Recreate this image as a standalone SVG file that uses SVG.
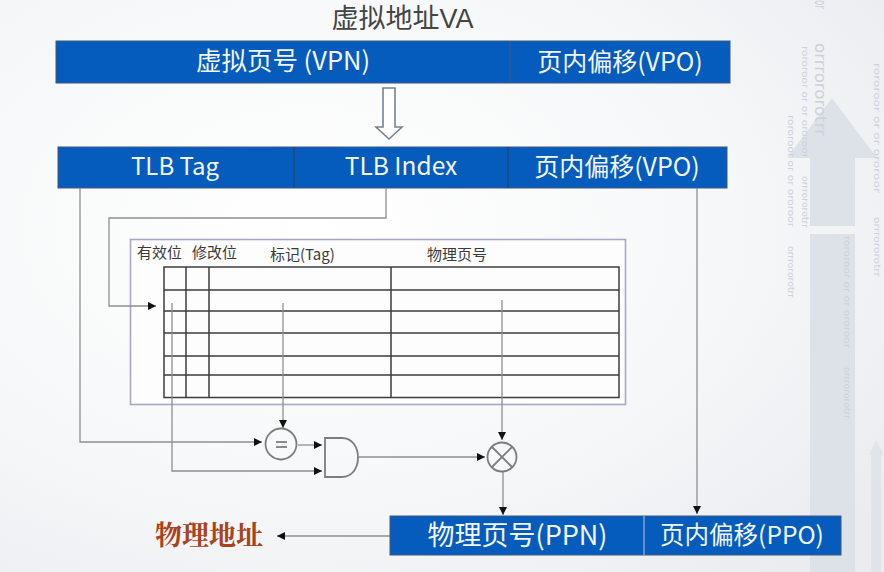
<svg xmlns="http://www.w3.org/2000/svg" width="884" height="572" viewBox="0 0 884 572">
<defs>
<radialGradient id="bg" cx="0.35" cy="0.4" r="0.8"><stop offset="0" stop-color="#ffffff"/><stop offset="0.6" stop-color="#f6f7f8"/><stop offset="1" stop-color="#eaecf0"/></radialGradient>
<marker id="ah" markerUnits="userSpaceOnUse" markerWidth="9" markerHeight="9" refX="8" refY="4" orient="auto"><path d="M0 0L8 4L0 8z" fill="#111"/></marker>
</defs>
<style>
.bar{fill:#065cbc;stroke:#41597a;stroke-width:1}
.bt{font-family:"Noto Sans CJK SC","Liberation Sans",sans-serif;fill:#f2f6fb;text-anchor:middle;font-size:25px}
.c{fill:none;stroke:#8f8f8f;stroke-width:1.3}
.a{marker-end:url(#ah)}
.g{fill:none;stroke:#7d7d7d;stroke-width:1.8}
.grid{stroke:#3d3d3d;stroke-width:1.5;fill:none}
.th{font-family:"Noto Sans CJK SC","Liberation Sans",sans-serif;font-size:15px;fill:#3a3a3a}
.wm{font-family:"DejaVu Sans",sans-serif;fill:#ccd2da;font-size:9px}
.wa{fill:#dde2e9}
</style>
<rect width="884" height="572" fill="url(#bg)"/>
<g id="watermark">
<path class="wa" d="M832 98L877 158H855V226H810V158H787z"/>
<rect class="wa" x="810" y="234" width="45" height="338"/>
<path class="wa" d="M876 440L884 455H881V572H871V455H869z" opacity="0.8"/>
<text class="wm" transform="translate(815,0) rotate(90)" style="font-size:16px" textLength="9" lengthAdjust="spacingAndGlyphs">or</text>
<text class="wm" transform="translate(815,43) rotate(90)" style="font-size:16px" textLength="93" lengthAdjust="spacingAndGlyphs">orrrororotrr</text>
<text class="wm" transform="translate(802,46) rotate(90)" textLength="112" lengthAdjust="spacingAndGlyphs">rororoor or or ororoor</text>
<text class="wm" transform="translate(802,176) rotate(90)" textLength="52" lengthAdjust="spacingAndGlyphs">orrrororotrr</text>
<text class="wm" transform="translate(788,115) rotate(90)" textLength="112" lengthAdjust="spacingAndGlyphs">rororoor or or ororoor</text>
<text class="wm" transform="translate(788,246) rotate(90)" textLength="52" lengthAdjust="spacingAndGlyphs">orrrororotrr</text>
<text class="wm" transform="translate(874,63) rotate(90)" textLength="130" lengthAdjust="spacingAndGlyphs">rororoor or or ororoor</text>
<text class="wm" transform="translate(874,217) rotate(90)" textLength="60" lengthAdjust="spacingAndGlyphs">orrrororotrr</text>
<text class="wm" transform="translate(844,236) rotate(90)" textLength="112" lengthAdjust="spacingAndGlyphs">rororoor or or ororoor</text>
<text class="wm" transform="translate(844,367) rotate(90)" textLength="52" lengthAdjust="spacingAndGlyphs">orrrororotrr</text>
</g>
<g id="title"><text x="402.500" y="28" font-family="'Liberation Sans','Noto Sans CJK SC',sans-serif" font-size="27" fill="#444" text-anchor="middle">虚拟地址VA</text></g>
<g id="va-bar">
<rect class="bar" x="56" y="41" width="674" height="42"/>
<line x1="510" y1="41" x2="510" y2="83" stroke="#41597a"/>
<text class="bt" x="283" y="70" style="font-size:25.500px">虚拟页号 (VPN)</text>
<text class="bt" x="620" y="71">页内偏移(VPO)</text>
</g>
<g id="down-arrow"><path d="M383 88H395V127H402L389 139L376 127H383z" fill="#fff" stroke="#76838f" stroke-width="1.6"/></g>
<g id="tlb-bar">
<rect class="bar" x="58" y="147" width="669" height="41"/>
<line x1="294" y1="147" x2="294" y2="188" stroke="#24405f"/>
<line x1="508" y1="147" x2="508" y2="188" stroke="#24405f"/>
<text class="bt" x="175" y="175" style="font-size:24px">TLB Tag</text>
<text class="bt" x="401" y="175" style="font-size:24.500px">TLB Index</text>
<text class="bt" x="617" y="176">页内偏移(VPO)</text>
</g>
<g id="tlb-table">
<rect x="130.500" y="239.500" width="495" height="165" fill="#fdfdfe" stroke="#a9a6c6" stroke-width="1.6"/>
<text class="th" x="137" y="258">有效位</text>
<text class="th" x="192" y="258">修改位</text>
<text class="th" x="270" y="260">标记(Tag)</text>
<text class="th" x="427" y="260">物理页号</text>
<rect class="grid" x="164" y="267" width="455" height="130.500"/>
<path class="grid" d="M186 267V397M209 267V397M391 267V397M164 290H619M164 311H619M164 333H619M164 356H619M164 375H619"/>
</g>
<g id="connectors">
<path class="c a" d="M386 188V218H109V306H156"/>
<path class="c a" d="M80 188V442H262"/>
<path class="c a" d="M172 303V471H322"/>
<path class="c a" d="M283 303V428"/>
<path class="c a" d="M298 445H322"/>
<path class="c a" d="M359 457H485"/>
<path class="c a" d="M502 300V440"/>
<path class="c a" d="M503 471V515"/>
<path class="c a" d="M697 188V514"/>
<path class="c a" d="M390 536H277"/>
</g>
<g id="equal"><circle cx="281" cy="444" r="15.500" fill="#f8f9fa" class="g"/><path d="M276 442H287M276 447H287" stroke="#8a8a8a" stroke-width="1.800"/></g>
<g id="and-gate"><path class="g" d="M325 438H342C352 438 358 447 358 457.500C358 468 352 477 342 477H325z"/></g>
<g id="mux"><circle cx="502" cy="457" r="14.500" class="g"/><path class="g" d="M492 447L512 467M512 447L492 467"/></g>
<g id="phys-bar">
<rect class="bar" x="390" y="516" width="451" height="39"/>
<line x1="644" y1="516" x2="644" y2="555" stroke="#b9c6d8"/>
<text class="bt" x="517.500" y="545" style="font-size:27px">物理页号(PPN)</text>
<text class="bt" x="742" y="544" style="font-size:24.500px">页内偏移(PPO)</text>
</g>
<g id="phys-label"><text x="209" y="545" font-family="'Noto Serif CJK SC','Noto Sans CJK SC',sans-serif" font-size="27" font-weight="700" fill="#a8431c" text-anchor="middle">物理地址</text></g>
</svg>
